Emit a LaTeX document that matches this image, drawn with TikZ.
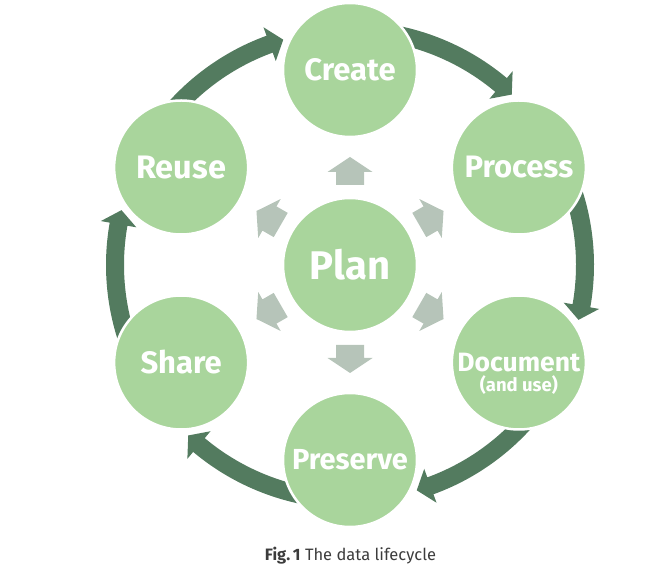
\documentclass[tikz,border=0pt]{standalone}
\usepackage{fontspec}
\setmainfont{Fira Sans}
\usetikzlibrary{calc}
\definecolor{circ}{RGB}{169,213,156}
\definecolor{darkarr}{RGB}{83,123,95}
\definecolor{greyarr}{RGB}{182,196,185}
\definecolor{captxt}{RGB}{60,60,60}
\begin{document}
\begin{tikzpicture}[x=1pt,y=1pt,
  stage/.style={circle, fill=circ, draw=white, line width=2.5pt, minimum size=134pt,
    inner sep=0pt, text=white, font=\bfseries\fontsize{31}{34}\selectfont, align=center},
  cyclearrow/.style={fill=darkarr},
  planarrow/.style={fill=greyarr}]
\useasboundingbox (0,0) rectangle (648,584);
\coordinate (P) at (350,319);
% cycle arrows
\begin{scope}[shift={(P)}]
\foreach \c in {60,0,-60,-120,180,120}{
  \fill[cyclearrow] (\c+20:226pt) arc[start angle=\c+20, end angle=\c-10, radius=226pt]
    -- (\c-10:217pt) -- (\c-13.5:235pt) -- (\c-10:253pt) -- (\c-10:244pt)
    arc[start angle=\c-10, end angle=\c+20, radius=244pt] -- cycle;
}
% plan arrows
\foreach \a in {90,30,-30,-90,-150,150}{
  \fill[planarrow, rotate=\a] (80pt,-14pt) -- (93pt,-14pt) -- (93pt,-22.5pt) -- (108pt,0pt)
    -- (93pt,22.5pt) -- (93pt,14pt) -- (80pt,14pt) -- cycle;
}
\end{scope}
% stages
\node[stage] (create)   at ($(P)+(90:195pt)$)  {Create};
\node[stage] (process)  at ($(P)+(30:195pt)$)  {Process};
\node[stage, font=\bfseries\fontsize{26.5}{30}\selectfont] (document) at ($(P)+(-30:195pt)$) {Document};
\node[text=white, font=\bfseries\fontsize{18.5}{21}\selectfont] (docsub) at ($(document.center)+(0,-23pt)$) {(and use)};
\node[stage, font=\bfseries\fontsize{29}{32}\selectfont] (preserve) at ($(P)+(-90:195pt)$) {Preserve};
\node[stage] (share)    at ($(P)+(-150:195pt)$) {Share};
\node[stage, font=\bfseries\fontsize{32.5}{35}\selectfont] (reuse)    at ($(P)+(150:195pt)$) {Reuse};
\node[stage, font=\bfseries\fontsize{40}{44}\selectfont] (plan) at (P) {Plan};
% caption
\node[text=captxt, font=\fontsize{16.5}{19}\selectfont, anchor=base] (caption) at (350.5,23.3) {\textbf{Fig.\,1} The data lifecycle};
\end{tikzpicture}
\end{document}
